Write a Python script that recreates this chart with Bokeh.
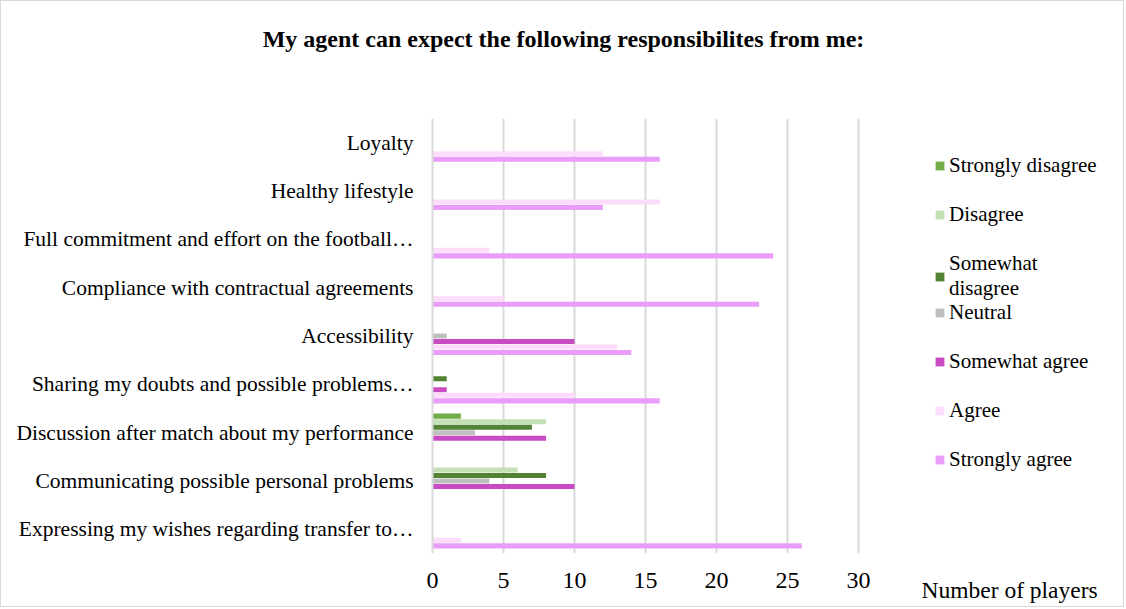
from bokeh.plotting import figure
from bokeh.models import ColumnDataSource, FactorRange, Range1d, Legend, LegendItem, Label
from bokeh.transform import dodge
from bokeh.embed import file_html
from bokeh.resources import INLINE

# Responsibilities, listed top to bottom as they appear on the chart
categories = [
    "Loyalty",
    "Healthy lifestyle",
    "Full commitment and effort on the football\u2026",
    "Compliance with contractual agreements",
    "Accessibility",
    "Sharing my doubts and possible problems\u2026",
    "Discussion after match about my performance",
    "Communicating possible personal problems",
    "Expressing my wishes regarding transfer to\u2026",
]

# Number of players per answer
strongly_disagree = [0, 0, 0, 0, 0, 0, 2, 0, 0]
disagree          = [0, 0, 0, 0, 0, 0, 8, 6, 0]
somewhat_disagree = [0, 0, 0, 0, 0, 1, 7, 8, 0]
neutral           = [0, 0, 0, 0, 1, 0, 3, 4, 0]
somewhat_agree    = [0, 0, 0, 0, 10, 1, 8, 10, 0]
agree             = [12, 16, 4, 5, 13, 10, 0, 0, 2]
strongly_agree    = [16, 12, 24, 23, 14, 16, 0, 0, 26]

series_names = ["Strongly disagree", "Disagree", "Somewhat disagree", "Neutral",
                "Somewhat agree", "Agree", "Strongly agree"]
series_values = [strongly_disagree, disagree, somewhat_disagree, neutral,
                 somewhat_agree, agree, strongly_agree]
series_colors = ["#70ad47", "#c5e0b4", "#548235", "#bfbfbf",
                 "#c84bc3", "#fddcfc", "#e99cf8"]

x_ticks = [0, 5, 10, 15, 20, 25, 30]

SERIF = "Liberation Serif"
GRID = "#d9d9d9"

source = ColumnDataSource(dict(cat=categories, **{
    f"s{i}": vals for i, vals in enumerate(series_values)
}))

# the plotting frame runs to the right edge so the legend can sit inside it;
# ticks and grid lines stop at 30
p = figure(
    width=1124, height=607,
    y_range=FactorRange(factors=list(reversed(categories))),
    x_range=Range1d(0, 30 * 693 / 426),
    output_backend="svg", toolbar_location=None,
    min_border_left=431, min_border_right=0,
    min_border_top=117, min_border_bottom=55,
)
p.styles = {"border": "1px solid " + GRID}
p.outline_line_color = None
p.background_fill_color = "white"
p.border_fill_color = "white"

slot = 0.114
bar_h = 0.104
renderers = []
for i, (name, color) in enumerate(zip(series_names, series_colors)):
    r = p.hbar(y=dodge("cat", (3 - i) * slot, range=p.y_range),
               left=0, right=f"s{i}", height=bar_h,
               fill_color=color, line_color=None, source=source)
    renderers.append(r)

# axes
p.xaxis.ticker = x_ticks
p.xaxis.axis_line_color = None
p.xaxis.major_tick_line_color = None
p.xaxis.minor_tick_line_color = None
p.xaxis.major_label_text_font = SERIF
p.xaxis.major_label_text_font_size = "24px"
p.xaxis.major_label_text_color = "#000000"
p.xaxis.major_label_standoff = 13

p.yaxis.axis_line_color = GRID
p.yaxis.axis_line_width = 2
p.yaxis.major_tick_line_color = None
p.yaxis.minor_tick_line_color = None
p.yaxis.major_label_text_font = SERIF
p.yaxis.major_label_text_font_size = "21.5px"
p.yaxis.major_label_text_color = "#000000"
p.yaxis.major_label_standoff = 13

p.ygrid.grid_line_color = None
p.xgrid.grid_line_color = GRID
p.xgrid.grid_line_width = 2

# chart title and value-axis caption, placed in the top border panel
p.add_layout(Label(x=131, y=80, x_units="screen", y_units="screen",
                   text="My agent can expect the following responsibilites from me:",
                   text_font=SERIF, text_font_size="24px", text_font_style="bold",
                   text_align="center", text_baseline="middle", text_color="#000000"),
             "above")
p.add_layout(Label(x=489, y=-497, x_units="screen", y_units="screen",
                   text="Number of players",
                   text_font=SERIF, text_font_size="23.5px",
                   text_align="left", text_baseline="middle", text_color="#000000"),
             "above")

# legend, in two blocks so the wrapped entry keeps the even spacing of the rest
def make_legend(idx, loc):
    items = []
    for i in idx:
        label = "Somewhat\ndisagree" if series_names[i] == "Somewhat disagree" else series_names[i]
        items.append(LegendItem(label=label, renderers=[renderers[i]]))
    return Legend(items=items, location=loc, orientation="vertical",
                  glyph_width=11, glyph_height=11, label_height=21,
                  label_standoff=4, spacing=24, padding=0, margin=0,
                  border_line_color=None, background_fill_alpha=0,
                  label_text_font=SERIF, label_text_font_size="21px",
                  label_text_color="#000000")

p.add_layout(make_legend([0, 1, 2], (502, 252)), "center")
p.add_layout(make_legend([3, 4, 5, 6], (502, 81)), "center")

open("out.html", "w").write(file_html(p, INLINE))
